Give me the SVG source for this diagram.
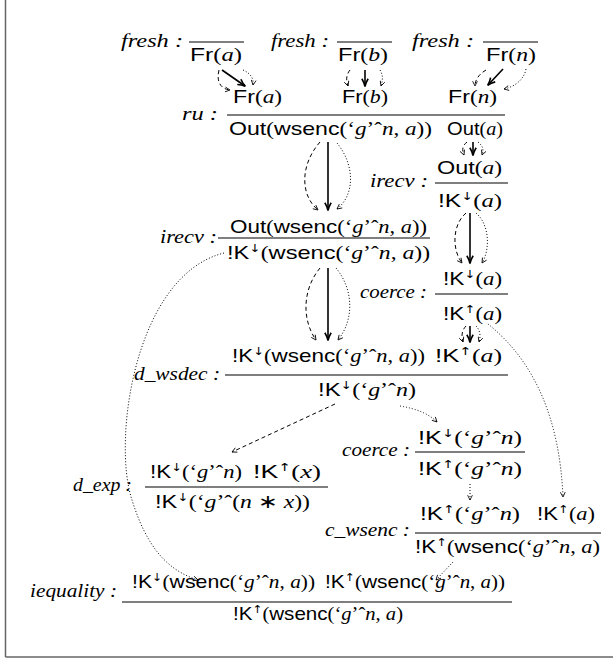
<svg xmlns="http://www.w3.org/2000/svg" width="613" height="661" viewBox="0 0 613 661">
<style>
text { font-size: 19px; fill: #000; }
.s { font-family: "Liberation Sans", Arial, sans-serif; font-style: normal; }
.r { font-family: "Liberation Serif", "Times New Roman", serif; font-style: normal; }
.m { font-family: "Liberation Serif", "Times New Roman", serif; font-style: italic; }
.lab { font-family: "Liberation Serif", "Times New Roman", serif; font-style: italic; font-size: 18px; }
.sup { font-family: "DejaVu Sans", sans-serif; font-size: 11px; }
.rule { stroke: #000; stroke-width: 1.1; }
.c { fill: none; stroke: #000; }
.solid { stroke-width: 1.6; marker-end: url(#hs); }
.dash { stroke-width: 1; stroke-dasharray: 4 3; marker-end: url(#hl); }
.dot { stroke-width: 1; stroke-dasharray: 1 2; marker-end: url(#hl); }
</style>
<defs>
<marker id="hs" viewBox="0 0 10 10" refX="9" refY="5" markerWidth="9" markerHeight="9" markerUnits="userSpaceOnUse" orient="auto"><path d="M1,1.5 Q5,4 9.5,5 Q5,6 1,8.5" fill="none" stroke="#000" stroke-width="1.8"/></marker>
<marker id="hl" viewBox="0 0 10 10" refX="9" refY="5" markerWidth="6" markerHeight="6" markerUnits="userSpaceOnUse" orient="auto"><path d="M1,1 L9,5 L1,9" fill="none" stroke="#000" stroke-width="1.4"/></marker>
</defs>
<g id="frame" fill="none" stroke="#666" stroke-width="1.5">
<line x1="5.5" y1="0" x2="5.5" y2="657"/>
<line x1="5.5" y1="657" x2="613" y2="657"/>
</g>

<g id="fresh_a">
<text class="lab" x="121" y="47" textLength="62" lengthAdjust="spacingAndGlyphs">fresh :</text>
<line class="rule" x1="189" y1="42" x2="244" y2="42"/>
<text x="190" y="61" textLength="52" lengthAdjust="spacingAndGlyphs"><tspan class="s">Fr</tspan><tspan class="r">(</tspan><tspan class="m">a</tspan><tspan class="r">)</tspan></text>
</g>
<g id="fresh_b">
<text class="lab" x="271" y="47" textLength="58" lengthAdjust="spacingAndGlyphs">fresh :</text>
<line class="rule" x1="337" y1="42" x2="392" y2="42"/>
<text x="338" y="61" textLength="50" lengthAdjust="spacingAndGlyphs"><tspan class="s">Fr</tspan><tspan class="r">(</tspan><tspan class="m">b</tspan><tspan class="r">)</tspan></text>
</g>
<g id="fresh_n">
<text class="lab" x="412" y="47" textLength="62" lengthAdjust="spacingAndGlyphs">fresh :</text>
<line class="rule" x1="483" y1="42" x2="538" y2="42"/>
<text x="486" y="61" textLength="50" lengthAdjust="spacingAndGlyphs"><tspan class="s">Fr</tspan><tspan class="r">(</tspan><tspan class="m">n</tspan><tspan class="r">)</tspan></text>
</g>

<g id="ru">
<text class="lab" x="182" y="120" textLength="36" lengthAdjust="spacingAndGlyphs">ru :</text>
<text x="233" y="103" textLength="49" lengthAdjust="spacingAndGlyphs"><tspan class="s">Fr</tspan><tspan class="r">(</tspan><tspan class="m">a</tspan><tspan class="r">)</tspan></text>
<text x="342" y="103" textLength="46" lengthAdjust="spacingAndGlyphs"><tspan class="s">Fr</tspan><tspan class="r">(</tspan><tspan class="m">b</tspan><tspan class="r">)</tspan></text>
<text x="448" y="103" textLength="49" lengthAdjust="spacingAndGlyphs"><tspan class="s">Fr</tspan><tspan class="r">(</tspan><tspan class="m">n</tspan><tspan class="r">)</tspan></text>
<line class="rule" x1="227" y1="115" x2="505" y2="115"/>
<text x="229" y="135" textLength="203" lengthAdjust="spacingAndGlyphs"><tspan class="s">Out</tspan><tspan class="r">(</tspan><tspan class="s">wsenc</tspan><tspan class="r">(‘</tspan><tspan class="m">g</tspan><tspan class="r">’ˆ</tspan><tspan class="m">n</tspan><tspan class="r">, </tspan><tspan class="m">a</tspan><tspan class="r">))</tspan></text>
<text x="447" y="135" textLength="56" lengthAdjust="spacingAndGlyphs"><tspan class="s">Out</tspan><tspan class="r">(</tspan><tspan class="m">a</tspan><tspan class="r">)</tspan></text>
</g>

<g id="irecv_r">
<text class="lab" x="370" y="187" textLength="58" lengthAdjust="spacingAndGlyphs">irecv :</text>
<text x="437" y="174" textLength="65" lengthAdjust="spacingAndGlyphs"><tspan class="s">Out</tspan><tspan class="r">(</tspan><tspan class="m">a</tspan><tspan class="r">)</tspan></text>
<line class="rule" x1="435" y1="183" x2="508" y2="183"/>
<text x="438" y="207" textLength="64" lengthAdjust="spacingAndGlyphs"><tspan class="s">!K</tspan><tspan class="sup" dy="-7">↓</tspan><tspan class="r" dy="7">(</tspan><tspan class="m">a</tspan><tspan class="r">)</tspan></text>
</g>

<g id="irecv_l">
<text class="lab" x="160" y="243" textLength="57" lengthAdjust="spacingAndGlyphs">irecv :</text>
<text x="230" y="233" textLength="197" lengthAdjust="spacingAndGlyphs"><tspan class="s">Out</tspan><tspan class="r">(</tspan><tspan class="s">wsenc</tspan><tspan class="r">(‘</tspan><tspan class="m">g</tspan><tspan class="r">’ˆ</tspan><tspan class="m">n</tspan><tspan class="r">, </tspan><tspan class="m">a</tspan><tspan class="r">))</tspan></text>
<line class="rule" x1="218" y1="238" x2="430" y2="238"/>
<text x="227" y="259" textLength="203" lengthAdjust="spacingAndGlyphs"><tspan class="s">!K</tspan><tspan class="sup" dy="-7">↓</tspan><tspan class="r" dy="7">(</tspan><tspan class="s">wsenc</tspan><tspan class="r">(‘</tspan><tspan class="m">g</tspan><tspan class="r">’ˆ</tspan><tspan class="m">n</tspan><tspan class="r">, </tspan><tspan class="m">a</tspan><tspan class="r">))</tspan></text>
</g>

<g id="coerce_r">
<text class="lab" x="360" y="298" textLength="67" lengthAdjust="spacingAndGlyphs">coerce :</text>
<text x="443" y="285" textLength="59" lengthAdjust="spacingAndGlyphs"><tspan class="s">!K</tspan><tspan class="sup" dy="-7">↓</tspan><tspan class="r" dy="7">(</tspan><tspan class="m">a</tspan><tspan class="r">)</tspan></text>
<line class="rule" x1="435" y1="294" x2="508" y2="294"/>
<text x="443" y="320" textLength="59" lengthAdjust="spacingAndGlyphs"><tspan class="s">!K</tspan><tspan class="sup" dy="-7">↑</tspan><tspan class="r" dy="7">(</tspan><tspan class="m">a</tspan><tspan class="r">)</tspan></text>
</g>

<g id="d_wsdec">
<text class="lab" x="134" y="380" textLength="86" lengthAdjust="spacingAndGlyphs">d_wsdec :</text>
<text x="232" y="362" textLength="193" lengthAdjust="spacingAndGlyphs"><tspan class="s">!K</tspan><tspan class="sup" dy="-7">↓</tspan><tspan class="r" dy="7">(</tspan><tspan class="s">wsenc</tspan><tspan class="r">(‘</tspan><tspan class="m">g</tspan><tspan class="r">’ˆ</tspan><tspan class="m">n</tspan><tspan class="r">, </tspan><tspan class="m">a</tspan><tspan class="r">))</tspan></text>
<text x="435" y="362" textLength="67" lengthAdjust="spacingAndGlyphs"><tspan class="s">!K</tspan><tspan class="sup" dy="-7">↑</tspan><tspan class="r" dy="7">(</tspan><tspan class="m">a</tspan><tspan class="r">)</tspan></text>
<line class="rule" x1="225" y1="375" x2="508" y2="375"/>
<text x="318" y="396" textLength="98" lengthAdjust="spacingAndGlyphs"><tspan class="s">!K</tspan><tspan class="sup" dy="-7">↓</tspan><tspan class="r" dy="7">(‘</tspan><tspan class="m">g</tspan><tspan class="r">’ˆ</tspan><tspan class="m">n</tspan><tspan class="r">)</tspan></text>
</g>

<g id="coerce_m">
<text class="lab" x="342" y="456" textLength="68" lengthAdjust="spacingAndGlyphs">coerce :</text>
<text x="418" y="444" textLength="104" lengthAdjust="spacingAndGlyphs"><tspan class="s">!K</tspan><tspan class="sup" dy="-7">↓</tspan><tspan class="r" dy="7">(‘</tspan><tspan class="m">g</tspan><tspan class="r">’ˆ</tspan><tspan class="m">n</tspan><tspan class="r">)</tspan></text>
<line class="rule" x1="415" y1="452" x2="525" y2="452"/>
<text x="418" y="475" textLength="104" lengthAdjust="spacingAndGlyphs"><tspan class="s">!K</tspan><tspan class="sup" dy="-7">↑</tspan><tspan class="r" dy="7">(‘</tspan><tspan class="m">g</tspan><tspan class="r">’ˆ</tspan><tspan class="m">n</tspan><tspan class="r">)</tspan></text>
</g>

<g id="d_exp">
<text class="lab" x="73" y="491" textLength="59" lengthAdjust="spacingAndGlyphs">d_exp :</text>
<text x="150" y="478" textLength="92" lengthAdjust="spacingAndGlyphs"><tspan class="s">!K</tspan><tspan class="sup" dy="-7">↓</tspan><tspan class="r" dy="7">(‘</tspan><tspan class="m">g</tspan><tspan class="r">’ˆ</tspan><tspan class="m">n</tspan><tspan class="r">)</tspan></text>
<text x="253" y="478" textLength="68" lengthAdjust="spacingAndGlyphs"><tspan class="s">!K</tspan><tspan class="sup" dy="-7">↑</tspan><tspan class="r" dy="7">(</tspan><tspan class="m">x</tspan><tspan class="r">)</tspan></text>
<line class="rule" x1="145" y1="487" x2="328" y2="487"/>
<text x="155" y="508" textLength="155" lengthAdjust="spacingAndGlyphs"><tspan class="s">!K</tspan><tspan class="sup" dy="-7">↓</tspan><tspan class="r" dy="7">(‘</tspan><tspan class="m">g</tspan><tspan class="r">’ˆ(</tspan><tspan class="m">n</tspan><tspan class="r"> ∗ </tspan><tspan class="m">x</tspan><tspan class="r">))</tspan></text>
</g>

<g id="c_wsenc">
<text class="lab" x="325" y="536" textLength="85" lengthAdjust="spacingAndGlyphs">c_wsenc :</text>
<text x="420" y="520" textLength="100" lengthAdjust="spacingAndGlyphs"><tspan class="s">!K</tspan><tspan class="sup" dy="-7">↑</tspan><tspan class="r" dy="7">(‘</tspan><tspan class="m">g</tspan><tspan class="r">’ˆ</tspan><tspan class="m">n</tspan><tspan class="r">)</tspan></text>
<text x="537" y="520" textLength="58" lengthAdjust="spacingAndGlyphs"><tspan class="s">!K</tspan><tspan class="sup" dy="-7">↑</tspan><tspan class="r" dy="7">(</tspan><tspan class="m">a</tspan><tspan class="r">)</tspan></text>
<line class="rule" x1="415" y1="533" x2="601" y2="533"/>
<text x="415" y="553" textLength="185" lengthAdjust="spacingAndGlyphs"><tspan class="s">!K</tspan><tspan class="sup" dy="-7">↑</tspan><tspan class="r" dy="7">(</tspan><tspan class="s">wsenc</tspan><tspan class="r">(‘</tspan><tspan class="m">g</tspan><tspan class="r">’ˆ</tspan><tspan class="m">n</tspan><tspan class="r">, </tspan><tspan class="m">a</tspan><tspan class="r">)</tspan></text>
</g>

<g id="iequality">
<text class="lab" x="30" y="597" textLength="87" lengthAdjust="spacingAndGlyphs">iequality :</text>
<text x="132" y="588" textLength="183" lengthAdjust="spacingAndGlyphs"><tspan class="s">!K</tspan><tspan class="sup" dy="-7">↓</tspan><tspan class="r" dy="7">(</tspan><tspan class="s">wsenc</tspan><tspan class="r">(‘</tspan><tspan class="m">g</tspan><tspan class="r">’ˆ</tspan><tspan class="m">n</tspan><tspan class="r">, </tspan><tspan class="m">a</tspan><tspan class="r">))</tspan></text>
<text x="325" y="588" textLength="180" lengthAdjust="spacingAndGlyphs"><tspan class="s">!K</tspan><tspan class="sup" dy="-7">↑</tspan><tspan class="r" dy="7">(</tspan><tspan class="s">wsenc</tspan><tspan class="r">(‘</tspan><tspan class="m">g</tspan><tspan class="r">’ˆ</tspan><tspan class="m">n</tspan><tspan class="r">, </tspan><tspan class="m">a</tspan><tspan class="r">))</tspan></text>
<line class="rule" x1="122" y1="602" x2="512" y2="602"/>
<text x="233" y="620" textLength="170" lengthAdjust="spacingAndGlyphs"><tspan class="s">!K</tspan><tspan class="sup" dy="-7">↑</tspan><tspan class="r" dy="7">(</tspan><tspan class="s">wsenc</tspan><tspan class="r">(‘</tspan><tspan class="m">g</tspan><tspan class="r">’ˆ</tspan><tspan class="m">n</tspan><tspan class="r">, </tspan><tspan class="m">a</tspan><tspan class="r">)</tspan></text>
</g>

<g id="connectors">
<path class="c solid" d="M222,70 L245,86"/>
<path class="c dash" d="M219,70 C216,82 221,89 230,90"/>
<path class="c dot" d="M243,70 C250,73 254,78 253,85"/>
<path class="c solid" d="M365,70 L365,86"/>
<path class="c dash" d="M350,70 C346,75 346,80 348,86"/>
<path class="c dot" d="M380,70 C383,75 383,80 381,86"/>
<path class="c solid" d="M503,69 L488,85"/>
<path class="c dash" d="M486,70 C479,74 475,80 475,86"/>
<path class="c dot" d="M526,69 C524,80 514,87 504,89"/>

<path class="c solid" d="M328,142 L328,210"/>
<path class="c dash" d="M320,142 C300,165 300,195 318,210"/>
<path class="c dot" d="M337,143 C355,165 355,195 337,209"/>

<path class="c solid" d="M473,142 L473,155"/>
<path class="c dash" d="M467,142 C462,146 462,150 464,155"/>
<path class="c dot" d="M478,142 C483,146 484,150 482,155"/>

<path class="c solid" d="M470,213 L470,263"/>
<path class="c dash" d="M466,213 C452,225 452,250 462,263"/>
<path class="c dot" d="M476,213 C490,225 490,250 482,263"/>

<path class="c solid" d="M328,268 L328,340"/>
<path class="c dash" d="M320,268 C302,290 302,320 316,340"/>
<path class="c dot" d="M336,268 C354,290 354,320 338,340"/>

<path class="c solid" d="M470,326 L470,342"/>
<path class="c dash" d="M466,326 C462,330 461,336 463,342"/>
<path class="c dot" d="M476,326 C480,330 481,336 479,342"/>

<path class="c dot" d="M224,253 C135,275 112,440 132,500 C146,545 166,570 198,580"/>
<path class="c dot" d="M488,324 Q558,380 563,497"/>
<path class="c dash" d="M335,404 L232,452"/>
<path class="c dot" d="M400,406 Q425,410 437,422"/>
<path class="c dot" d="M470,484 L470,500"/>
<path class="c dot" d="M453,562 L436,580"/>
</g>
</svg>
